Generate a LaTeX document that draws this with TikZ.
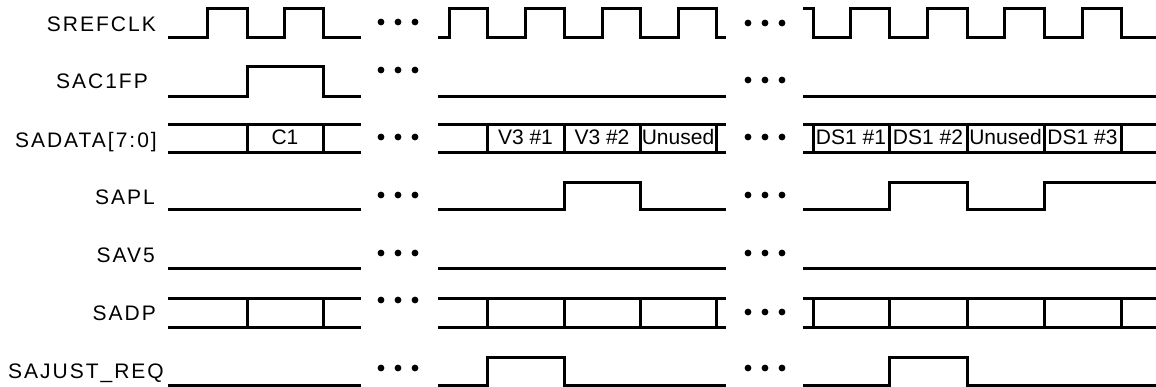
\documentclass[tikz,border=0pt]{standalone}
\usepackage{fontspec}
\setmainfont{Liberation Sans}
\newfontfamily\siglabelfont[LetterSpace=9.5]{Liberation Sans}
\begin{document}
\begin{tikzpicture}[x=1pt,y=-1pt,
  wave/.style={line width=3pt,line join=miter,line cap=butt},
  siglabel/.style={anchor=base east,inner sep=0pt,font=\siglabelfont\fontsize{21pt}{24pt}\selectfont},
  cell/.style={anchor=base,inner sep=0pt,font=\fontsize{21pt}{24pt}\selectfont},
  dotmark/.style={fill=black,draw=none}]
\useasboundingbox (0,0) rectangle (1156,387);

% ---------- labels ----------
\node[siglabel] (lclk)  at (156,31.5) {SREFCLK};
\node[siglabel] (lfp)   at (148,89)   {SAC1FP};
\node[siglabel] (ldata) at (157,147.5){SADATA[7:0]};
\node[siglabel] (lpl)   at (155,205)  {SAPL};
\node[siglabel] (lv5)   at (155,263)  {SAV5};
\node[siglabel] (ldp)   at (156,320.5){SADP};
\node[siglabel] (ljr)   at (164,378)  {SAJUST\_REQ};

% ---------- ellipsis dots ----------
\foreach \yy [count=\i] in {22,70,137,195,253,300,368}{
  \foreach \xx in {381,398,415}{\fill (\xx,\yy) circle (3.4);}
}
\foreach \yy in {23,80,137,195,253,312,368}{
  \foreach \xx in {748,765,782}{\fill (\xx,\yy) circle (3.4);}
}

% ---------- SREFCLK ----------
\draw[wave] (168,38)--(207,38)--(207,9)--(247,9)--(247,38)--(284,38)--(284,9)--(323,9)--(323,38)--(361,38);
\draw[wave] (438,38)--(449,38)--(449,9)--(487,9)--(487,38)--(525,38)--(525,9)--(564,9)--(564,38)--(602,38)--(602,9)--(640,9)--(640,38)--(678,38)--(678,9)--(716,9)--(716,38)--(726,38);
\draw[wave] (803,9)--(813,9)--(813,38)--(850,38)--(850,9)--(889,9)--(889,38)--(927,38)--(927,9)--(967,9)--(967,38)--(1004,38)--(1004,9)--(1044,9)--(1044,38)--(1082,38)--(1082,9)--(1121,9)--(1121,38)--(1156,38);

% ---------- SAC1FP ----------
\draw[wave] (168,97)--(247,97)--(247,67)--(323,67)--(323,97)--(361,97);
\draw[wave] (438,97)--(726,97);
\draw[wave] (803,97)--(1156,97);

% ---------- SADATA[7:0] ----------
\foreach \a/\b in {168/361,438/726,803/1156}{
  \draw[wave] (\a,125)--(\b,125);
  \draw[wave] (\a,153)--(\b,153);
}
\foreach \xx in {247,323,487,564,640,716,813,889,967,1044,1121}{
  \draw[wave] (\xx,125)--(\xx,153);
}
\node[cell] (c1)  at (285,145)    {C1};
\node[cell] (v31) at (525.5,145)  {V3 \#1};
\node[cell] (v32) at (602,145)    {V3 \#2};
\node[cell] (un1) at (678,145)    {Unused};
\node[cell] (ds1) at (851,145)    {DS1 \#1};
\node[cell] (ds2) at (928,145)    {DS1 \#2};
\node[cell] (un2) at (1005.5,145) {Unused};
\node[cell] (ds3) at (1082.5,145) {DS1 \#3};

% ---------- SAPL ----------
\draw[wave] (168,210)--(361,210);
\draw[wave] (438,210)--(564,210)--(564,183)--(640,183)--(640,210)--(726,210);
\draw[wave] (803,210)--(889,210)--(889,183)--(967,183)--(967,210)--(1044,210)--(1044,183)--(1156,183);

% ---------- SAV5 ----------
\draw[wave] (168,269)--(361,269);
\draw[wave] (438,269)--(726,269);
\draw[wave] (803,269)--(1156,269);

% ---------- SADP ----------
\foreach \a/\b in {168/361,438/726,803/1156}{
  \draw[wave] (\a,298)--(\b,298);
  \draw[wave] (\a,327)--(\b,327);
}
\foreach \xx in {247,323,487,564,640,716,813,889,967,1044,1121}{
  \draw[wave] (\xx,298)--(\xx,327);
}

% ---------- SAJUST_REQ ----------
\draw[wave] (168,385)--(361,385);
\draw[wave] (438,385)--(487,385)--(487,357)--(564,357)--(564,385)--(726,385);
\draw[wave] (803,385)--(889,385)--(889,357)--(967,357)--(967,385)--(1156,385);
\end{tikzpicture}
\end{document}
